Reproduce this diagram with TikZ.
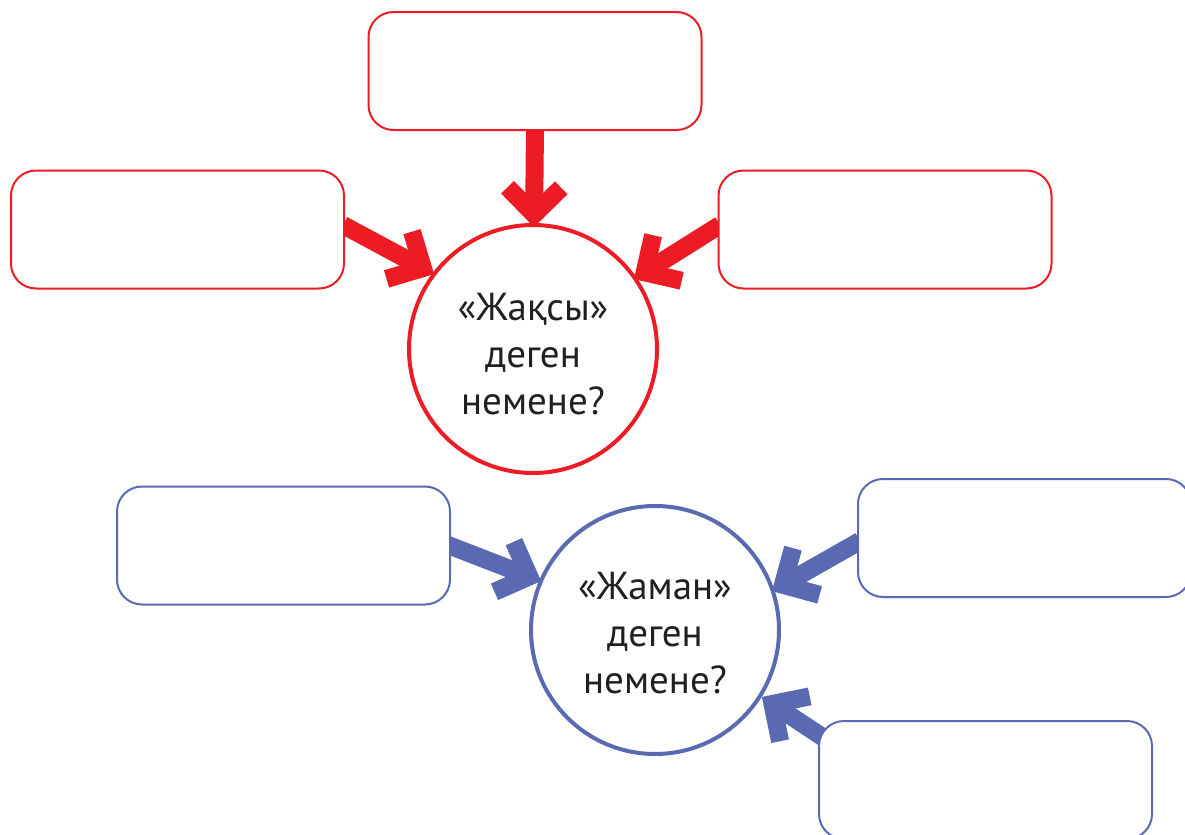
\documentclass[tikz,border=0pt]{standalone}
\usepackage{fontspec}
\setmainfont{PT Sans}
\usetikzlibrary{calc,backgrounds}
\definecolor{rd}{HTML}{ED1C24}
\definecolor{bl}{HTML}{5A6AB2}
\definecolor{txt}{HTML}{231F20}
\tikzset{
  box/.style={draw=#1, line width=1pt, fill=white, rounded corners=12.5pt,
    minimum width=166.5pt, minimum height=59pt, inner sep=0pt},
  topic/.style={draw=#1, line width=2pt, fill=white, circle, minimum size=124pt,
    inner sep=0pt, align=center, text=txt,
    font=\fontsize{19.5}{23.5}\selectfont},
  shaft/.style={line width=9pt, draw=#1, line cap=butt},
  barb/.style={line width=9pt, draw=#1, line cap=butt, line join=miter},
}
\newcommand{\chevarrow}[3]{%
  \coordinate (T) at ($(#3)!6.3pt!(#2)$);
  \draw[shaft=#1] (#2) -- (T);
  \draw[barb=#1] ($(T)!19pt!45:(#2)$) -- (T) -- ($(T)!19pt!-45:(#2)$);
}
\begin{document}
\begin{tikzpicture}[x=0.5pt,y=-0.5pt]
\useasboundingbox (0,0) rectangle (1185,835);
\clip (0,0) rectangle (1185,835);
% red group
\node[box=rd] (rtop) at (535,71) {};
\node[box=rd] (rleft) at (177.5,229.5) {};
\node[box=rd] (rright) at (885,229.5) {};
\node[topic=rd] (good) at (533,349) {};
\node[text=txt, align=center, font=\fontsize{19.5}{23.5}\selectfont] (goodtxt) at (533,354) {«Жақсы»\\деген\\немене?};
% blue group
\node[box=bl] (bleft) at (283.5,545.5) {};
\node[box=bl] (bright) at (1024.5,538) {};
\node[box=bl] (bbot) at (985.5,780) {};
\node[topic=bl] (bad) at (655,630) {};
\node[text=txt, align=center, font=\fontsize{19.5}{23.5}\selectfont] (badtxt) at (655,633) {«Жаман»\\деген\\немене?};
% connector ends
\coordinate (s1) at (535,128); \coordinate (p1) at (534,227);
\coordinate (s2) at (343,225); \coordinate (p2) at (434,274);
\coordinate (s3) at (720,225); \coordinate (p3) at (634,279);
\coordinate (s4) at (448,545); \coordinate (p4) at (541,581);
\coordinate (s5) at (860,541); \coordinate (p5) at (772,591);
\coordinate (s6) at (830,742); \coordinate (p6) at (762,697);
\begin{scope}[on background layer]
\chevarrow{rd}{s1}{p1}
\chevarrow{rd}{s2}{p2}
\chevarrow{rd}{s3}{p3}
\chevarrow{bl}{s4}{p4}
\chevarrow{bl}{s5}{p5}
\chevarrow{bl}{s6}{p6}
\end{scope}
\end{tikzpicture}
\end{document}
